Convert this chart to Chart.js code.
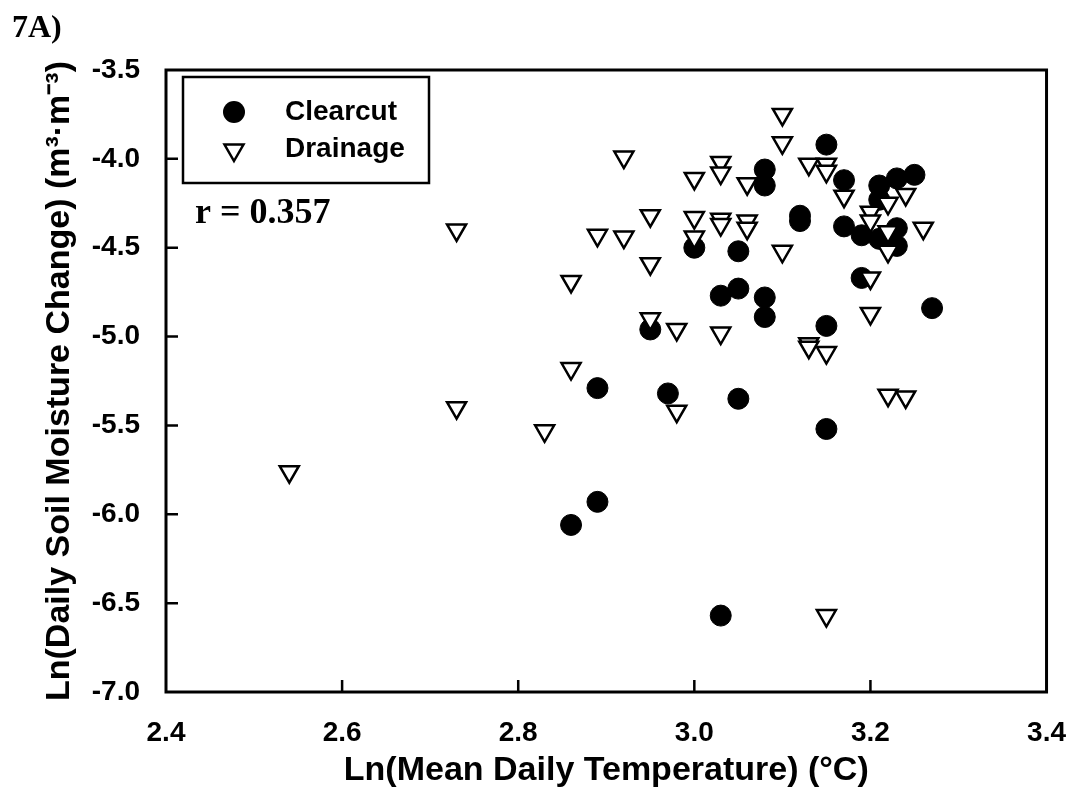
<!DOCTYPE html>
<html>
<head>
<meta charset="utf-8">
<title>7A) Soil moisture change vs temperature</title>
<script src="https://cdn.jsdelivr.net/npm/chart.js@4.4.1/dist/chart.umd.min.js"></script>
<style>
  html, body { margin: 0; padding: 0; background: #fff; }
  #chart { display: block; }
</style>
</head>
<body>
<canvas id="chart" width="1082" height="806"></canvas>
<script>
// Clearcut (filled circles)
let clearcutX = [3.15, 3.08, 3.08, 3.17, 3.21, 3.23, 3.25, 3.21, 3.17, 3.19, 3.21, 3.23, 3.23, 3.19, 3.27, 3.12,
                 3.12, 3.00, 3.05, 3.05, 3.03, 3.08, 3.08, 3.15, 2.95, 2.89, 2.97, 3.05, 3.15, 2.89, 2.86, 3.03];
let clearcutY = [-3.92, -4.06, -4.15, -4.12, -4.15, -4.11, -4.09, -4.23, -4.38, -4.43, -4.45, -4.39, -4.49, -4.67, -4.84, -4.32,
                 -4.35, -4.50, -4.52, -4.73, -4.77, -4.78, -4.89, -4.94, -4.96, -5.29, -5.32, -5.35, -5.52, -5.93, -6.06, -6.57];

// Drainage (open triangles)
let drainageX = [2.54, 2.73, 2.73, 2.83, 2.86, 2.86, 2.89, 2.92, 2.92, 2.95, 2.95, 2.95, 2.98, 2.98, 3.00, 3.00,
                 3.00, 3.03, 3.03, 3.03, 3.03, 3.03, 3.06, 3.06, 3.06, 3.10, 3.10, 3.10, 3.13, 3.15, 3.15, 3.13,
                 3.13, 3.15, 3.17, 3.20, 3.20, 3.20, 3.20, 3.22, 3.22, 3.22, 3.22, 3.24, 3.24, 3.26, 3.15];
let drainageY = [-5.76, -4.40, -5.40, -5.53, -5.18, -4.69, -4.43, -4.44, -3.99, -4.32, -4.59, -4.90, -4.96, -5.42, -4.11, -4.33,
                 -4.44, -4.02, -4.08, -4.34, -4.37, -4.98, -4.14, -4.35, -4.39, -3.75, -3.91, -4.52, -4.03, -4.03, -4.07, -5.04,
                 -5.06, -5.09, -4.21, -4.30, -4.35, -4.67, -4.87, -4.25, -4.41, -4.52, -5.33, -4.20, -5.34, -4.39, -6.57];

let xTicks = [2.4, 2.6, 2.8, 3.0, 3.2, 3.4];
let yTicks = [-7.0, -6.5, -6.0, -5.5, -5.0, -4.5, -4.0, -3.5];

let seriesNames = ["Clearcut", "Drainage"];
let panelLabel = "7A)";
let rLabel = "r = 0.357";

const SANS = "'Liberation Sans', Arial, sans-serif";
const SERIF = "'Liberation Serif', 'Times New Roman', serif";

function toPoints(xs, ys) {
    return xs.map((x, i) => ({ x: x, y: ys[i] }));
}

// frame, inward ticks, boxed legend and text annotations
const framePlugin = {
    id: "frame",
    afterDraw(chart) {
        let ctx = chart.ctx;
        let a = chart.chartArea;
        let xs = chart.scales.x;
        let ys = chart.scales.y;
        ctx.save();
        ctx.strokeStyle = "#000";
        ctx.lineWidth = 3;
        ctx.strokeRect(a.left, a.top, a.right - a.left, a.bottom - a.top);

        ctx.lineWidth = 2.5;
        ctx.beginPath();
        xTicks.forEach(v => {
            let px = xs.getPixelForValue(v);
            if (px > a.left + 3 && px < a.right - 3) {
                ctx.moveTo(px, a.bottom);
                ctx.lineTo(px, a.bottom - 12);
            }
        });
        yTicks.forEach(v => {
            let py = ys.getPixelForValue(v);
            if (py > a.top + 3 && py < a.bottom - 3) {
                ctx.moveTo(a.left, py);
                ctx.lineTo(a.left + 12, py);
            }
        });
        ctx.stroke();

        // legend box
        ctx.lineWidth = 2.5;
        ctx.strokeRect(183, 77, 246, 106);

        ctx.fillStyle = "#000";
        ctx.beginPath();
        ctx.arc(234, 112, 11, 0, Math.PI * 2);
        ctx.fill();

        ctx.fillStyle = "#fff";
        ctx.lineWidth = 2.5;
        ctx.beginPath();
        ctx.moveTo(234, 161);
        ctx.lineTo(243.5, 144.5);
        ctx.lineTo(224.5, 144.5);
        ctx.closePath();
        ctx.fill();
        ctx.stroke();

        ctx.fillStyle = "#000";
        ctx.textAlign = "left";
        ctx.textBaseline = "middle";
        ctx.font = "bold 28px " + SANS;
        ctx.fillText(seriesNames[0], 285, 112);
        ctx.fillText(seriesNames[1], 285, 149);

        ctx.textBaseline = "alphabetic";
        ctx.font = "bold 36px " + SERIF;
        ctx.fillText(rLabel, 195, 223);
        ctx.font = "bold 32px " + SERIF;
        ctx.fillText(panelLabel, 12, 37);
        ctx.restore();
    }
};

let ctx = document.getElementById("chart").getContext("2d");

new Chart(ctx, {
    type: "scatter",
    data: {
        datasets: [
            {
                label: seriesNames[0],
                data: toPoints(clearcutX, clearcutY),
                pointStyle: "circle",
                pointRadius: 10.5,
                backgroundColor: "#000",
                borderColor: "#000",
                borderWidth: 1,
                order: 1
            },
            {
                label: seriesNames[1],
                data: toPoints(drainageX, drainageY),
                pointStyle: "triangle",
                rotation: 180,
                pointRadius: 11,
                backgroundColor: "#fff",
                borderColor: "#000",
                borderWidth: 2.5,
                order: 0
            }
        ]
    },
    options: {
        responsive: false,
        animation: false,
        events: [],
        layout: { padding: { top: 70, right: 26, left: 0, bottom: 0 } },
        plugins: {
            legend: { display: false },
            tooltip: { enabled: false }
        },
        scales: {
            x: {
                type: "linear",
                min: 2.4,
                max: 3.4,
                afterBuildTicks: s => { s.ticks = xTicks.map(v => ({ value: v })); },
                afterFit: s => { s.height = 114; },
                grid: { display: false },
                border: { display: false },
                ticks: {
                    padding: 16,
                    color: "#000",
                    font: { family: SANS, size: 28, weight: "bold" },
                    callback: v => v.toFixed(1)
                },
                title: {
                    display: true,
                    text: "Ln(Mean Daily Temperature) (°C)",
                    color: "#000",
                    font: { family: SANS, size: 34, weight: "bold" },
                    padding: { top: 0, bottom: 15 }
                }
            },
            y: {
                type: "linear",
                min: -7,
                max: -3.5,
                afterBuildTicks: s => { s.ticks = yTicks.map(v => ({ value: v })); },
                afterFit: s => { s.width = 166; },
                grid: { display: false },
                border: { display: false },
                ticks: {
                    padding: 18,
                    color: "#000",
                    font: { family: SANS, size: 28, weight: "bold" },
                    callback: v => v.toFixed(1)
                },
                title: {
                    display: true,
                    text: "Ln(Daily Soil Moisture Change) (m³·m⁻³)",
                    color: "#000",
                    font: { family: SANS, size: 34, weight: "bold" },
                    padding: { top: 39, bottom: 0 }
                }
            }
        }
    },
    plugins: [framePlugin]
});
</script>
</body>
</html>
